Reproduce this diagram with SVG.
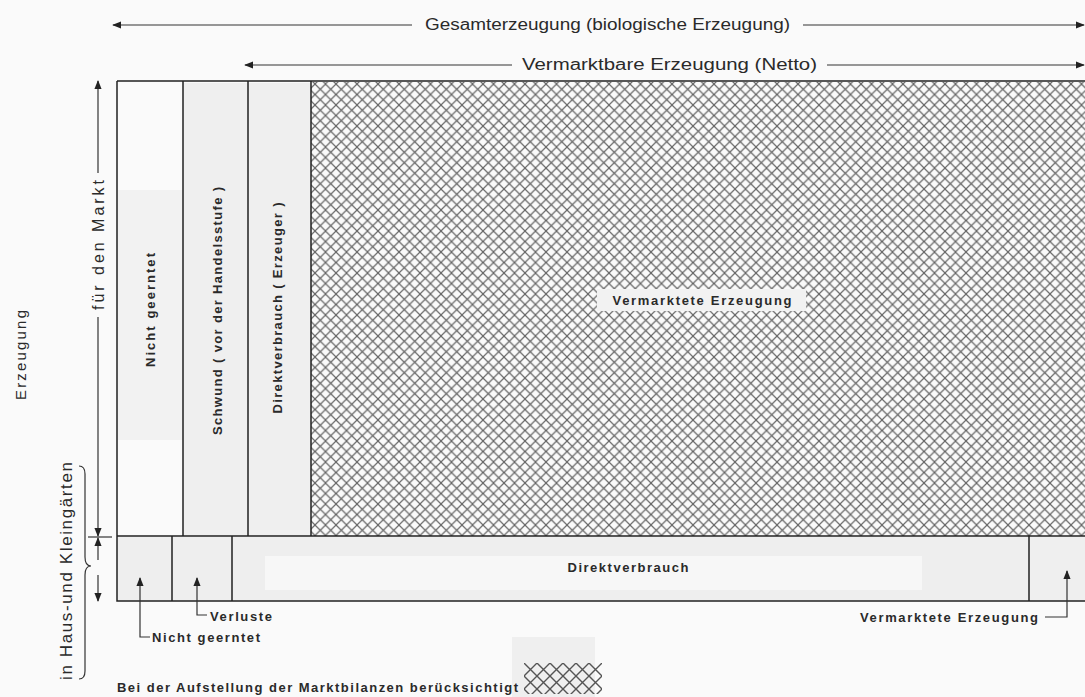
<svg xmlns="http://www.w3.org/2000/svg" width="1085" height="697" viewBox="0 0 1085 697">
<style>
.t{font-family:"Liberation Sans",Arial,sans-serif;fill:#2a2a2a}
.big{font-size:16px}
.sm{font-size:13px;font-weight:bold}
.ln{stroke:#222;stroke-width:1.5;fill:none}
.thin{stroke:#333;stroke-width:1.2;fill:none}
</style>
<defs>
<pattern id="hatch" patternUnits="userSpaceOnUse" width="10.5" height="10.5">
<path d="M0,0 L10.5,10.5 M10.5,0 L0,10.5" stroke="#666" stroke-width="1.2"/>
</pattern>
<pattern id="hatch2" patternUnits="userSpaceOnUse" width="13" height="13" x="524" y="663">
<path d="M0,0 L13,13 M13,0 L0,13" stroke="#555" stroke-width="1.4"/>
</pattern>
<marker id="ah" viewBox="0 0 10 10" refX="9" refY="5" markerWidth="9" markerHeight="9" markerUnits="userSpaceOnUse" orient="auto-start-reverse">
<path d="M0,1 L10,5 L0,9 Z" fill="#222"/>
</marker>
</defs>
<rect width="1085" height="697" fill="#fafafa"/>

<g id="background-patches">
<rect x="183" y="83" width="65" height="453" fill="#efefef"/>
<rect x="248" y="83" width="63" height="453" fill="#efefef"/>
<rect x="117" y="190" width="66" height="250" fill="#f2f2f2"/>
<rect x="117" y="537" width="912" height="64" fill="#eeeeee"/>
<rect x="265" y="556" width="657" height="34" fill="#f7f7f7"/>
</g>

<g id="main-box">
<rect x="311" y="82" width="776" height="454" fill="url(#hatch)"/>
<rect x="1029" y="537" width="58" height="64" fill="#efefef"/>
<path class="ln" d="M117,81 H1085 M117,81 V601 H1085 M117,536 H1085 M183,81 V536 M248,81 V536 M311,81 V536 M172,536 V601 M232,536 V601 M1029,536 V601"/>
</g>

<g id="node-nicht-geerntet">
<text class="t sm" transform="translate(155,310) rotate(-90)" text-anchor="middle" textLength="114" lengthAdjust="spacing">Nicht geerntet</text>
</g>
<g id="node-schwund">
<text class="t sm" transform="translate(222,311) rotate(-90)" text-anchor="middle" textLength="248" lengthAdjust="spacing">Schwund ( vor der Handelsstufe )</text>
</g>
<g id="node-direktverbrauch-erzeuger">
<text class="t sm" transform="translate(282,308) rotate(-90)" text-anchor="middle" textLength="211" lengthAdjust="spacing">Direktverbrauch ( Erzeuger )</text>
</g>
<g id="node-vermarktete-erzeugung">
<rect x="597" y="289" width="209" height="22" fill="#f2f2f2"/>
<text class="t sm" x="702" y="305" text-anchor="middle" textLength="179" lengthAdjust="spacing">Vermarktete Erzeugung</text>
</g>
<g id="node-direktverbrauch">
<text class="t sm" x="628" y="572" text-anchor="middle" textLength="121" lengthAdjust="spacing">Direktverbrauch</text>
</g>

<g id="connectors">
<line class="thin" x1="412" y1="25" x2="113" y2="25" marker-end="url(#ah)"/>
<line class="thin" x1="803" y1="25" x2="1084" y2="25" marker-end="url(#ah)"/>
<line class="thin" x1="512" y1="65" x2="245" y2="65" marker-end="url(#ah)"/>
<line class="thin" x1="827" y1="65" x2="1084" y2="65" marker-end="url(#ah)"/>
<line class="thin" x1="98" y1="173" x2="98" y2="81" marker-end="url(#ah)"/>
<line class="thin" x1="98" y1="317" x2="98" y2="536" marker-end="url(#ah)"/>
<line class="thin" x1="88" y1="537" x2="112" y2="537"/>
<line class="thin" x1="98" y1="560" x2="98" y2="538" marker-end="url(#ah)"/>
<line class="thin" x1="98" y1="575" x2="98" y2="601" marker-end="url(#ah)"/>
<path class="thin" d="M150,637 H140 V578" marker-end="url(#ah)"/>
<path class="thin" d="M207,615 H197 V578" marker-end="url(#ah)"/>
<path class="thin" d="M1045,617 H1067 V571" marker-end="url(#ah)"/>
<path class="thin" d="M79,466 Q85,466 85,474 V557 Q85,566 91,566 Q85,566 85,575 V671 Q85,679 79,679"/>
</g>

<g id="labels">
<text class="t big" x="425" y="30" textLength="365" lengthAdjust="spacingAndGlyphs">Gesamterzeugung (biologische Erzeugung)</text>
<text class="t big" x="522" y="70" textLength="295" lengthAdjust="spacingAndGlyphs">Vermarktbare Erzeugung (Netto)</text>
<text class="t big" transform="translate(104,245) rotate(-90)" text-anchor="middle" textLength="130" lengthAdjust="spacing">für den Markt</text>
<text class="t" style="font-size:15px" transform="translate(26,355) rotate(-90)" text-anchor="middle" textLength="90" lengthAdjust="spacing">Erzeugung</text>
<text class="t" style="font-size:17px" transform="translate(72,571) rotate(-90)" text-anchor="middle" textLength="218" lengthAdjust="spacing">in Haus-und Kleingärten</text>
<text class="t sm" x="152" y="642" textLength="108" lengthAdjust="spacing">Nicht geerntet</text>
<text class="t sm" x="210" y="621" textLength="62" lengthAdjust="spacing">Verluste</text>
<text class="t sm" x="860" y="622" textLength="178" lengthAdjust="spacing">Vermarktete Erzeugung</text>
</g>

<g id="legend">
<rect x="512" y="637" width="83" height="60" fill="#efefef"/>
<rect x="524" y="663" width="78" height="31" fill="url(#hatch2)"/>
<text class="t" style="font-size:13px;font-weight:bold" x="117" y="692" textLength="401" lengthAdjust="spacing">Bei der Aufstellung der Marktbilanzen berücksichtigt</text>
</g>
</svg>
